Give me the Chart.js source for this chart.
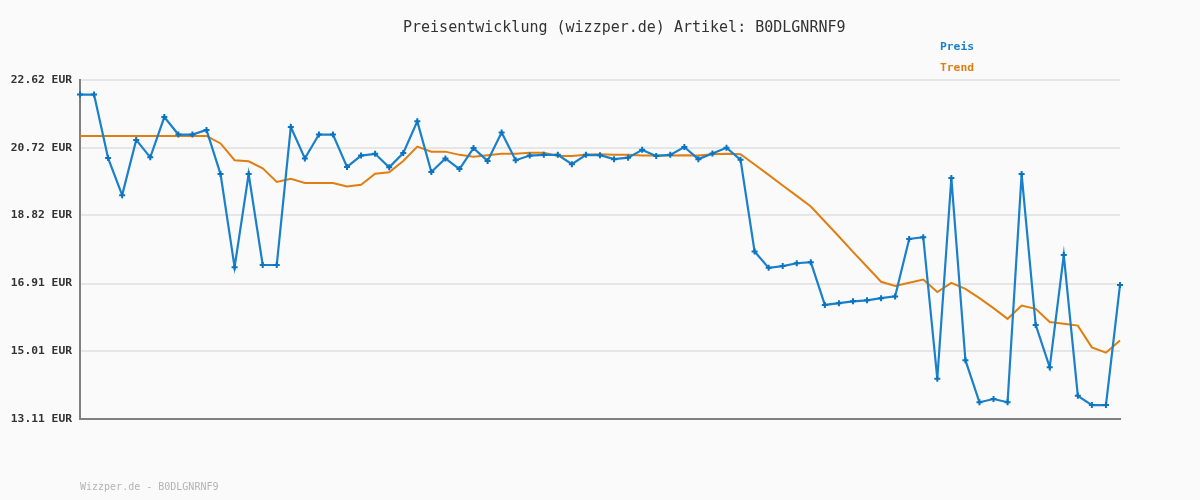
<!DOCTYPE html>
<html>
<head>
<meta charset="utf-8">
<script src="https://cdn.jsdelivr.net/npm/chart.js@4/dist/chart.umd.min.js"></script>
<style>
  html, body { margin: 0; padding: 0; background: #fafafa; }
  #wrap { position: relative; width: 1200px; height: 500px; background: #fafafa; }
  .txt { position: absolute; font-family: "DejaVu Sans Mono", monospace; white-space: pre; }
  #title { left: 403px; top: 19px; font-size: 15px; line-height: 16px; color: #333; }
  .leg { left: 940px; font-size: 11.3px; font-weight: bold; line-height: 12px; }
  #footer { left: 80px; top: 481px; font-size: 10px; line-height: 12px; color: #b4b4b4; }
</style>
</head>
<body>
<div id="wrap">
  <canvas id="c" width="1200" height="500"></canvas>
  <div id="title" class="txt">Preisentwicklung (wizzper.de) Artikel: B0DLGNRNF9</div>
  <div class="txt leg" style="top:41px;color:#1a7fc8">Preis</div>
  <div class="txt leg" style="top:62px;color:#e07f10">Trend</div>
  <div id="footer" class="txt">Wizzper.de - B0DLGNRNF9</div>
</div>
<script>
const preis = [22.21, 22.21, 20.43, 19.39, 20.94, 20.45, 21.58, 21.09, 21.09, 21.22,
  19.98, 17.37, 19.98, 17.43, 17.43, 21.30, 20.42, 21.09, 21.09, 20.18,
  20.50, 20.55, 20.17, 20.57, 21.46, 20.04, 20.42, 20.12, 20.71, 20.35,
  21.15, 20.37, 20.50, 20.52, 20.52, 20.26, 20.52, 20.51, 20.40, 20.44,
  20.66, 20.49, 20.52, 20.74, 20.40, 20.56, 20.72, 20.38, 17.81, 17.35,
  17.40, 17.48, 17.51, 16.31, 16.36, 16.41, 16.44, 16.50, 16.55, 18.16,
  18.21, 14.24, 19.87, 14.76, 13.58, 13.67, 13.58, 19.98, 15.75, 14.56,
  17.71, 13.76, 13.50, 13.50, 16.87];

const trend = [21.05, 21.05, 21.05, 21.05, 21.05, 21.05, 21.05, 21.05, 21.05, 21.05,
  20.84, 20.37, 20.34, 20.14, 19.76, 19.85, 19.73, 19.73, 19.73, 19.63,
  19.68, 19.99, 20.03, 20.35, 20.75, 20.61, 20.61, 20.52, 20.47, 20.51,
  20.55, 20.55, 20.58, 20.58, 20.49, 20.49, 20.52, 20.54, 20.52, 20.52,
  20.50, 20.50, 20.50, 20.51, 20.50, 20.54, 20.55, 20.54, 20.25, 19.96,
  19.66, 19.37, 19.07, 18.65, 18.23, 17.80, 17.38, 16.96, 16.84, 16.93,
  17.02, 16.67, 16.93, 16.76, 16.50, 16.22, 15.92, 16.29, 16.20, 15.83,
  15.78, 15.73, 15.12, 14.97, 15.31];

const tickValues = [13.11, 15.01, 16.91, 18.82, 20.72, 22.62];
const tickLabels = ["13.11 EUR", "15.01 EUR", "16.91 EUR", "18.82 EUR", "20.72 EUR", "22.62 EUR"];

const labels = preis.map((_, i) => String(i + 1));

new Chart(document.getElementById('c'), {
  type: 'line',
  data: {
    labels: labels,
    datasets: [
      {
        label: 'Trend',
        data: trend,
        borderColor: '#e07f10',
        borderWidth: 2,
        pointRadius: 0,
        tension: 0,
        order: 2
      },
      {
        label: 'Preis',
        data: preis,
        borderColor: '#1a80ca',
        borderWidth: 2.2,
        pointStyle: 'cross',
        pointRadius: 3,
        pointBorderWidth: 2,
        pointBorderColor: '#0b74c0',
        pointBackgroundColor: '#0b74c0',
        tension: 0,
        order: 1
      }
    ]
  },
  options: {
    responsive: false,
    animation: false,
    devicePixelRatio: 1,
    layout: { padding: { top: 80, right: 80, bottom: 81, left: 0 } },
    plugins: { legend: { display: false }, title: { display: false }, tooltip: { enabled: false } },
    scales: {
      x: {
        type: 'category',
        offset: false,
        grid: { display: false, drawTicks: false },
        border: { display: true, color: '#808080', width: 2 },
        ticks: { display: false },
        afterFit: (s) => { s.height = 0; }
      },
      y: {
        min: 13.11,
        max: 22.62,
        afterFit: (s) => { s.width = 80; },
        afterBuildTicks: (s) => { s.ticks = tickValues.map(v => ({ value: v })); },
        grid: { color: '#e6e6e6', lineWidth: 2, drawTicks: false },
        border: { display: true, color: '#808080', width: 2 },
        ticks: {
          padding: 8,
          color: '#333',
          font: { family: 'DejaVu Sans Mono', size: 11.3, weight: 'bold' },
          callback: (v, i) => tickLabels[i]
        }
      }
    }
  }
});
</script>
</body>
</html>
